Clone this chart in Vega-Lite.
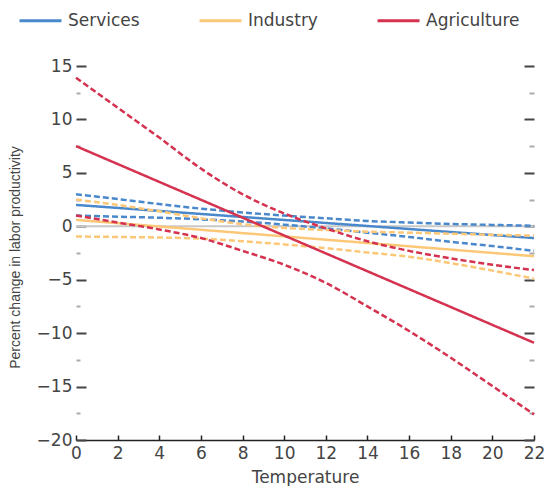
{
  "$schema": "https://vega.github.io/schema/vega-lite/v6.json",
  "width": 458,
  "height": 374,
  "autosize": {"type": "none"},
  "padding": {"left": 76, "top": 66, "right": 11, "bottom": 46},
  "background": "white",
  "config": {"view": {"stroke": null}, "font": "DejaVu Sans"},
  "datasets": {
    "ref": [{"level": 0}],
    "lines": [
      {"sector": "Services", "band": "estimate", "temperature": 0, "change": 2.0},
      {"sector": "Services", "band": "estimate", "temperature": 22, "change": -1.1},
      {"sector": "Services", "band": "upper", "temperature": 0, "change": 3.0},
      {"sector": "Services", "band": "upper", "temperature": 2, "change": 2.55},
      {"sector": "Services", "band": "upper", "temperature": 4, "change": 2.08},
      {"sector": "Services", "band": "upper", "temperature": 6, "change": 1.65},
      {"sector": "Services", "band": "upper", "temperature": 8, "change": 1.3},
      {"sector": "Services", "band": "upper", "temperature": 10, "change": 1.0},
      {"sector": "Services", "band": "upper", "temperature": 12, "change": 0.75},
      {"sector": "Services", "band": "upper", "temperature": 14, "change": 0.5},
      {"sector": "Services", "band": "upper", "temperature": 16, "change": 0.35},
      {"sector": "Services", "band": "upper", "temperature": 18, "change": 0.22},
      {"sector": "Services", "band": "upper", "temperature": 20, "change": 0.13},
      {"sector": "Services", "band": "upper", "temperature": 22, "change": 0.05},
      {"sector": "Services", "band": "lower", "temperature": 0, "change": 1.0},
      {"sector": "Services", "band": "lower", "temperature": 2, "change": 0.9},
      {"sector": "Services", "band": "lower", "temperature": 4, "change": 0.8},
      {"sector": "Services", "band": "lower", "temperature": 6, "change": 0.65},
      {"sector": "Services", "band": "lower", "temperature": 8, "change": 0.45},
      {"sector": "Services", "band": "lower", "temperature": 10, "change": 0.15},
      {"sector": "Services", "band": "lower", "temperature": 12, "change": -0.2},
      {"sector": "Services", "band": "lower", "temperature": 14, "change": -0.6},
      {"sector": "Services", "band": "lower", "temperature": 16, "change": -1.0},
      {"sector": "Services", "band": "lower", "temperature": 18, "change": -1.45},
      {"sector": "Services", "band": "lower", "temperature": 20, "change": -1.85},
      {"sector": "Services", "band": "lower", "temperature": 22, "change": -2.3},
      {"sector": "Industry", "band": "estimate", "temperature": 0, "change": 0.6},
      {"sector": "Industry", "band": "estimate", "temperature": 22, "change": -2.8},
      {"sector": "Industry", "band": "upper", "temperature": 0, "change": 2.5},
      {"sector": "Industry", "band": "upper", "temperature": 2, "change": 2.0},
      {"sector": "Industry", "band": "upper", "temperature": 4, "change": 1.4},
      {"sector": "Industry", "band": "upper", "temperature": 6, "change": 0.75},
      {"sector": "Industry", "band": "upper", "temperature": 8, "change": 0.2},
      {"sector": "Industry", "band": "upper", "temperature": 10, "change": -0.15},
      {"sector": "Industry", "band": "upper", "temperature": 12, "change": -0.35},
      {"sector": "Industry", "band": "upper", "temperature": 14, "change": -0.5},
      {"sector": "Industry", "band": "upper", "temperature": 16, "change": -0.6},
      {"sector": "Industry", "band": "upper", "temperature": 18, "change": -0.7},
      {"sector": "Industry", "band": "upper", "temperature": 20, "change": -0.8},
      {"sector": "Industry", "band": "upper", "temperature": 22, "change": -0.87},
      {"sector": "Industry", "band": "lower", "temperature": 0, "change": -0.95},
      {"sector": "Industry", "band": "lower", "temperature": 2, "change": -1.0},
      {"sector": "Industry", "band": "lower", "temperature": 4, "change": -1.05},
      {"sector": "Industry", "band": "lower", "temperature": 6, "change": -1.15},
      {"sector": "Industry", "band": "lower", "temperature": 8, "change": -1.4},
      {"sector": "Industry", "band": "lower", "temperature": 10, "change": -1.7},
      {"sector": "Industry", "band": "lower", "temperature": 12, "change": -2.05},
      {"sector": "Industry", "band": "lower", "temperature": 14, "change": -2.45},
      {"sector": "Industry", "band": "lower", "temperature": 16, "change": -2.85},
      {"sector": "Industry", "band": "lower", "temperature": 18, "change": -3.45},
      {"sector": "Industry", "band": "lower", "temperature": 20, "change": -4.15},
      {"sector": "Industry", "band": "lower", "temperature": 22, "change": -4.9},
      {"sector": "Agriculture", "band": "estimate", "temperature": 0, "change": 7.5},
      {"sector": "Agriculture", "band": "estimate", "temperature": 22, "change": -10.9},
      {"sector": "Agriculture", "band": "upper", "temperature": 0, "change": 13.9},
      {"sector": "Agriculture", "band": "upper", "temperature": 2, "change": 11.1},
      {"sector": "Agriculture", "band": "upper", "temperature": 4, "change": 8.3},
      {"sector": "Agriculture", "band": "upper", "temperature": 6, "change": 5.4},
      {"sector": "Agriculture", "band": "upper", "temperature": 8, "change": 3.0},
      {"sector": "Agriculture", "band": "upper", "temperature": 10, "change": 1.2},
      {"sector": "Agriculture", "band": "upper", "temperature": 12, "change": -0.2},
      {"sector": "Agriculture", "band": "upper", "temperature": 14, "change": -1.4},
      {"sector": "Agriculture", "band": "upper", "temperature": 16, "change": -2.3},
      {"sector": "Agriculture", "band": "upper", "temperature": 18, "change": -3.0},
      {"sector": "Agriculture", "band": "upper", "temperature": 20, "change": -3.6},
      {"sector": "Agriculture", "band": "upper", "temperature": 22, "change": -4.1},
      {"sector": "Agriculture", "band": "lower", "temperature": 0, "change": 1.0},
      {"sector": "Agriculture", "band": "lower", "temperature": 2, "change": 0.35},
      {"sector": "Agriculture", "band": "lower", "temperature": 4, "change": -0.3},
      {"sector": "Agriculture", "band": "lower", "temperature": 6, "change": -1.1},
      {"sector": "Agriculture", "band": "lower", "temperature": 8, "change": -2.3},
      {"sector": "Agriculture", "band": "lower", "temperature": 10, "change": -3.6},
      {"sector": "Agriculture", "band": "lower", "temperature": 12, "change": -5.3},
      {"sector": "Agriculture", "band": "lower", "temperature": 14, "change": -7.5},
      {"sector": "Agriculture", "band": "lower", "temperature": 16, "change": -9.8},
      {"sector": "Agriculture", "band": "lower", "temperature": 18, "change": -12.3},
      {"sector": "Agriculture", "band": "lower", "temperature": 20, "change": -14.95},
      {"sector": "Agriculture", "band": "lower", "temperature": 22, "change": -17.6}
    ]
  },
  "layer": [
    {
      "data": {"name": "ref"},
      "mark": {"type": "rule", "color": "#c8c8c8", "strokeWidth": 2},
      "encoding": {
        "y": {
          "field": "level",
          "type": "quantitative",
          "scale": {"domain": [-20, 15], "nice": false},
          "axis": {
            "orient": "right",
            "values": [-20, -17.5, -15, -12.5, -10, -7.5, -5, -2.5, 0, 2.5, 5, 7.5, 10, 12.5, 15],
            "domain": false,
            "grid": false,
            "labels": false,
            "title": null,
            "tickSize": {"condition": {"test": "datum.value % 5 === 0", "value": -10}, "value": -5},
            "tickColor": {"condition": {"test": "datum.value % 5 === 0", "value": "#444444"}, "value": "#aaaaaa"},
            "tickWidth": 2
          }
        }
      }
    },
    {
      "data": {"name": "lines"},
      "mark": {"type": "line", "strokeWidth": 2.5, "interpolate": "monotone"},
      "encoding": {
        "x": {
          "field": "temperature",
          "type": "quantitative",
          "scale": {"domain": [0, 22], "nice": false},
          "axis": {
            "values": [0, 2, 4, 6, 8, 10, 12, 14, 16, 18, 20, 22],
            "title": "Temperature",
            "titleFont": "DejaVu Sans",
            "titleFontSize": 17,
            "titleFontWeight": "normal",
            "titleColor": "#444444",
            "titlePadding": 8,
            "labelFontSize": 17,
            "labelColor": "#444444",
            "labelFlush": false,
            "labelPadding": 10,
            "tickSize": -5,
            "tickColor": "#222222",
            "tickWidth": 1.5,
            "domainColor": "#222222",
            "domainWidth": 1.5,
            "grid": false
          }
        },
        "y": {
          "field": "change",
          "type": "quantitative",
          "scale": {"domain": [-20, 15], "nice": false},
          "axis": {
            "orient": "left",
            "values": [-20, -17.5, -15, -12.5, -10, -7.5, -5, -2.5, 0, 2.5, 5, 7.5, 10, 12.5, 15],
            "domain": false,
            "grid": false,
            "labelExpr": "datum.value % 5 === 0 ? datum.label : ''",
            "labelFontSize": 17,
            "labelColor": "#444444",
            "labelPadding": 14,
            "tickSize": {"condition": {"test": "datum.value % 5 === 0", "value": -10}, "value": -4},
            "tickColor": {"condition": {"test": "datum.value % 5 === 0", "value": "#444444"}, "value": "#aaaaaa"},
            "tickWidth": 2,
            "title": "Percent change in labor productivity",
            "titleFont": "Liberation Sans",
            "titleFontSize": 14,
            "titleFontWeight": "normal",
            "titleColor": "#444444",
            "titleAngle": -90,
            "titleAlign": "center",
            "titleBaseline": "middle",
            "titleX": -61,
            "titleY": 191
          }
        },
        "color": {
          "field": "sector",
          "type": "nominal",
          "scale": {"domain": ["Services", "Industry", "Agriculture"], "range": ["#4a88cc", "#fcc878", "#d4324f"]},
          "legend": {
            "orient": "none",
            "legendX": -58,
            "legendY": -68,
            "direction": "horizontal",
            "columns": 3,
            "columnPadding": 53,
            "title": null,
            "labelFont": "DejaVu Sans",
            "labelFontSize": 17,
            "labelColor": "#444444",
            "labelOffset": 5,
            "symbolType": "stroke",
            "symbolSize": 1764,
            "symbolStrokeWidth": 3
          }
        },
        "strokeDash": {
          "field": "band",
          "type": "nominal",
          "scale": {"domain": ["estimate", "upper", "lower"], "range": [[1, 0], [6, 3], [6, 3]]},
          "legend": null
        }
      }
    }
  ],
  "resolve": {"scale": {"y": "independent"}}
}
